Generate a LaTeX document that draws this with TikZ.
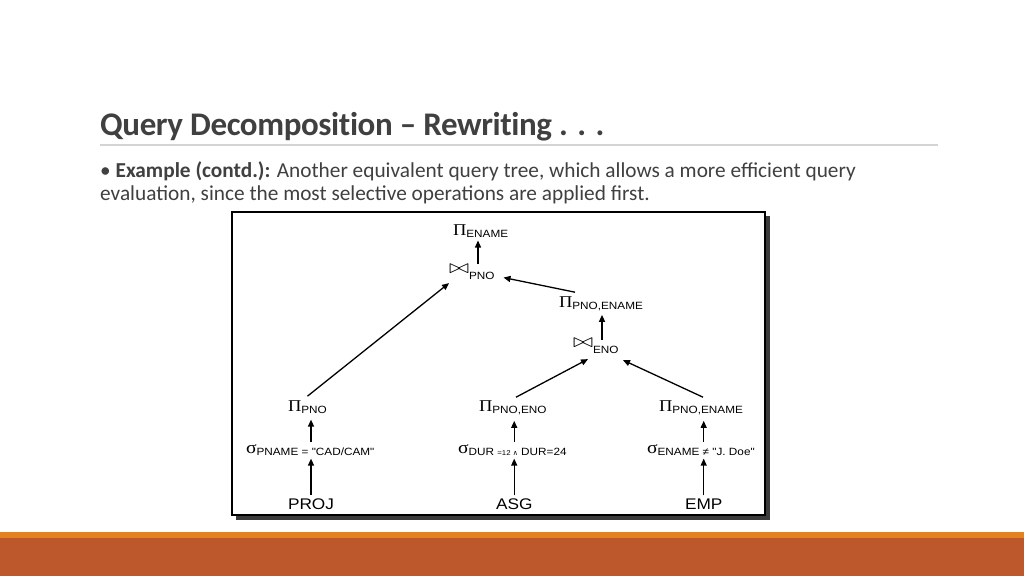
\documentclass[tikz,border=0pt]{standalone}
\usepackage{fontspec}
\setmainfont{Carlito}
\newfontfamily\titlefont[LetterSpace=-1.2,Ligatures=NoCommon]{Carlito Bold}
\newfontfamily\diag[FakeStretch=1.12]{Liberation Sans}
\newfontfamily\grk[FakeStretch=1.12]{Liberation Serif}
\newfontfamily\dvs{DejaVu Sans}
\usetikzlibrary{arrows.meta,calc}
\definecolor{txt}{HTML}{404040}
\definecolor{rulegray}{HTML}{D4D4D4}
\definecolor{bandorange}{HTML}{E3821E}
\definecolor{bandrust}{HTML}{BD582C}
\definecolor{shadowgray}{HTML}{3C3C3C}
\newcommand\sbs[1]{\raisebox{-2.5pt}{\fontsize{10.5}{10}\diag #1}}
\newcommand\PIs{{\fontsize{16.5}{16}\grk Π}}
\newcommand\SIGs{{\fontsize{17.5}{16}\grk σ}}
\newcommand\JOINs{\raisebox{3.5pt}{\resizebox*{20pt}{9pt}{\raisebox{\depth}{$\bowtie$}}}}
\begin{document}
\begin{tikzpicture}[x=1pt,y=-1pt,
  op/.style={anchor=base west,inner sep=0pt,outer sep=0pt},
  rel/.style={anchor=base west,inner sep=0pt,outer sep=0pt,font=\fontsize{15.4}{16}\diag},
  arr/.style={line width=1.3pt,-{Triangle[length=7pt,width=6pt]}}]
\useasboundingbox (0,0) rectangle (1024,576);
\fill[white] (0,0) rectangle (1024,576);
% title and text
\node[anchor=base west,inner sep=0pt,text=txt,font=\fontsize{33}{40}\titlefont] (title) at (100,135) {Query Decomposition – Rewriting . . .};
\draw[rulegray,line width=1.2pt] (100,145) -- (938,145);
\node[anchor=base west,inner sep=0pt,text=txt,font=\fontsize{21.3}{23}\selectfont] (l1) at (100,177) {• \textbf{Example (contd.):} Another equivalent query tree, which allows a more efficient query};
\node[anchor=base west,inner sep=0pt,text=txt,font=\fontsize{21.3}{23}\selectfont] (l2) at (100,200) {evaluation, since the most selective operations are applied first.};
% bottom bands
\fill[bandorange] (0,532) rectangle (1024,538);
\fill[bandrust] (0,538) rectangle (1024,576);
% diagram frame
\fill[shadowgray] (236,216) rectangle (770,520);
\draw[line width=1.5pt,fill=white] (232,212) rectangle (765,515);
% operators
\node[op] (pE) at (453,235) {\PIs\sbs{ENAME}};
\node[op] (jP) at (449,276.5) {\JOINs\sbs{PNO}};
\node[op] (pPE) at (559,307) {\PIs\sbs{PNO,ENAME}};
\node[op] (jE) at (573,350.5) {\JOINs\sbs{ENO}};
\node[op] (pP) at (288,411) {\PIs\sbs{PNO}};
\node[op] (pPEn) at (479,411) {\PIs\sbs{PNO,ENO}};
\node[op] (pPEm) at (659,411) {\PIs\sbs{PNO,ENAME}};
\node[op] (s1) at (246,453) {\SIGs\sbs{PNAME = "CAD/CAM"}};
\node[op] (s2) at (458,453) {\SIGs\sbs{DUR {\fontsize{7}{7}\selectfont =12 {\dvs ∧}} DUR=24}};
\node[op] (s3) at (647,453) {\SIGs\sbs{ENAME ≠ "J. Doe"}};
\node[rel] (PROJ) at (288,509) {PROJ};
\node[rel] (ASG) at (496,509) {ASG};
\node[rel] (EMP) at (685,509) {EMP};
% helper anchor points on the join nodes
\coordinate (jPtop) at ($(jP.north west)+(29,0)$);
\coordinate (jEtop) at ($(jE.north west)+(29,2)$);
% connectors
\draw[arr] ($(PROJ.north)+(0,-3)$) -- ($(PROJ.north |- s1.south)+(0,3)$);
\draw[arr] ($(ASG.north)+(0,-3)$) -- ($(ASG.north |- s2.south)+(0,3)$);
\draw[arr] ($(EMP.north)+(0,-3)$) -- ($(EMP.north |- s3.south)+(0,3)$);
\draw[arr] ($(s1.north -| PROJ.north)+(0,-2)$) -- ($(PROJ.north |- pP.south)+(0,6)$);
\draw[arr] ($(s2.north -| ASG.north)+(0,-2)$) -- ($(ASG.north |- pPEn.south)+(0,6)$);
\draw[arr] ($(s3.north -| EMP.north)+(0,-2)$) -- ($(EMP.north |- pPEm.south)+(0,6)$);
\draw[arr] ($(pP.north)+(0,-4)$) -- ($(jP.south west)+(0,4)$);
\draw[arr] ($(pPEn.north west)+(37,-3)$) -- ($(jE.south west)+(15,6)$);
\draw[arr] ($(pPEm.north west)+(44,-3)$) -- ($(jE.south west)+(50,7)$);
\draw[arr] (jEtop) -- ($(jEtop |- pPE.south)+(0,4)$);
\draw[arr] ($(pPE.north west)+(16,-4)$) -- ($(jP.east)+(9,6)$);
\draw[arr] (jPtop) -- ($(jPtop |- pE.south)+(0,3)$);
\end{tikzpicture}
\end{document}
